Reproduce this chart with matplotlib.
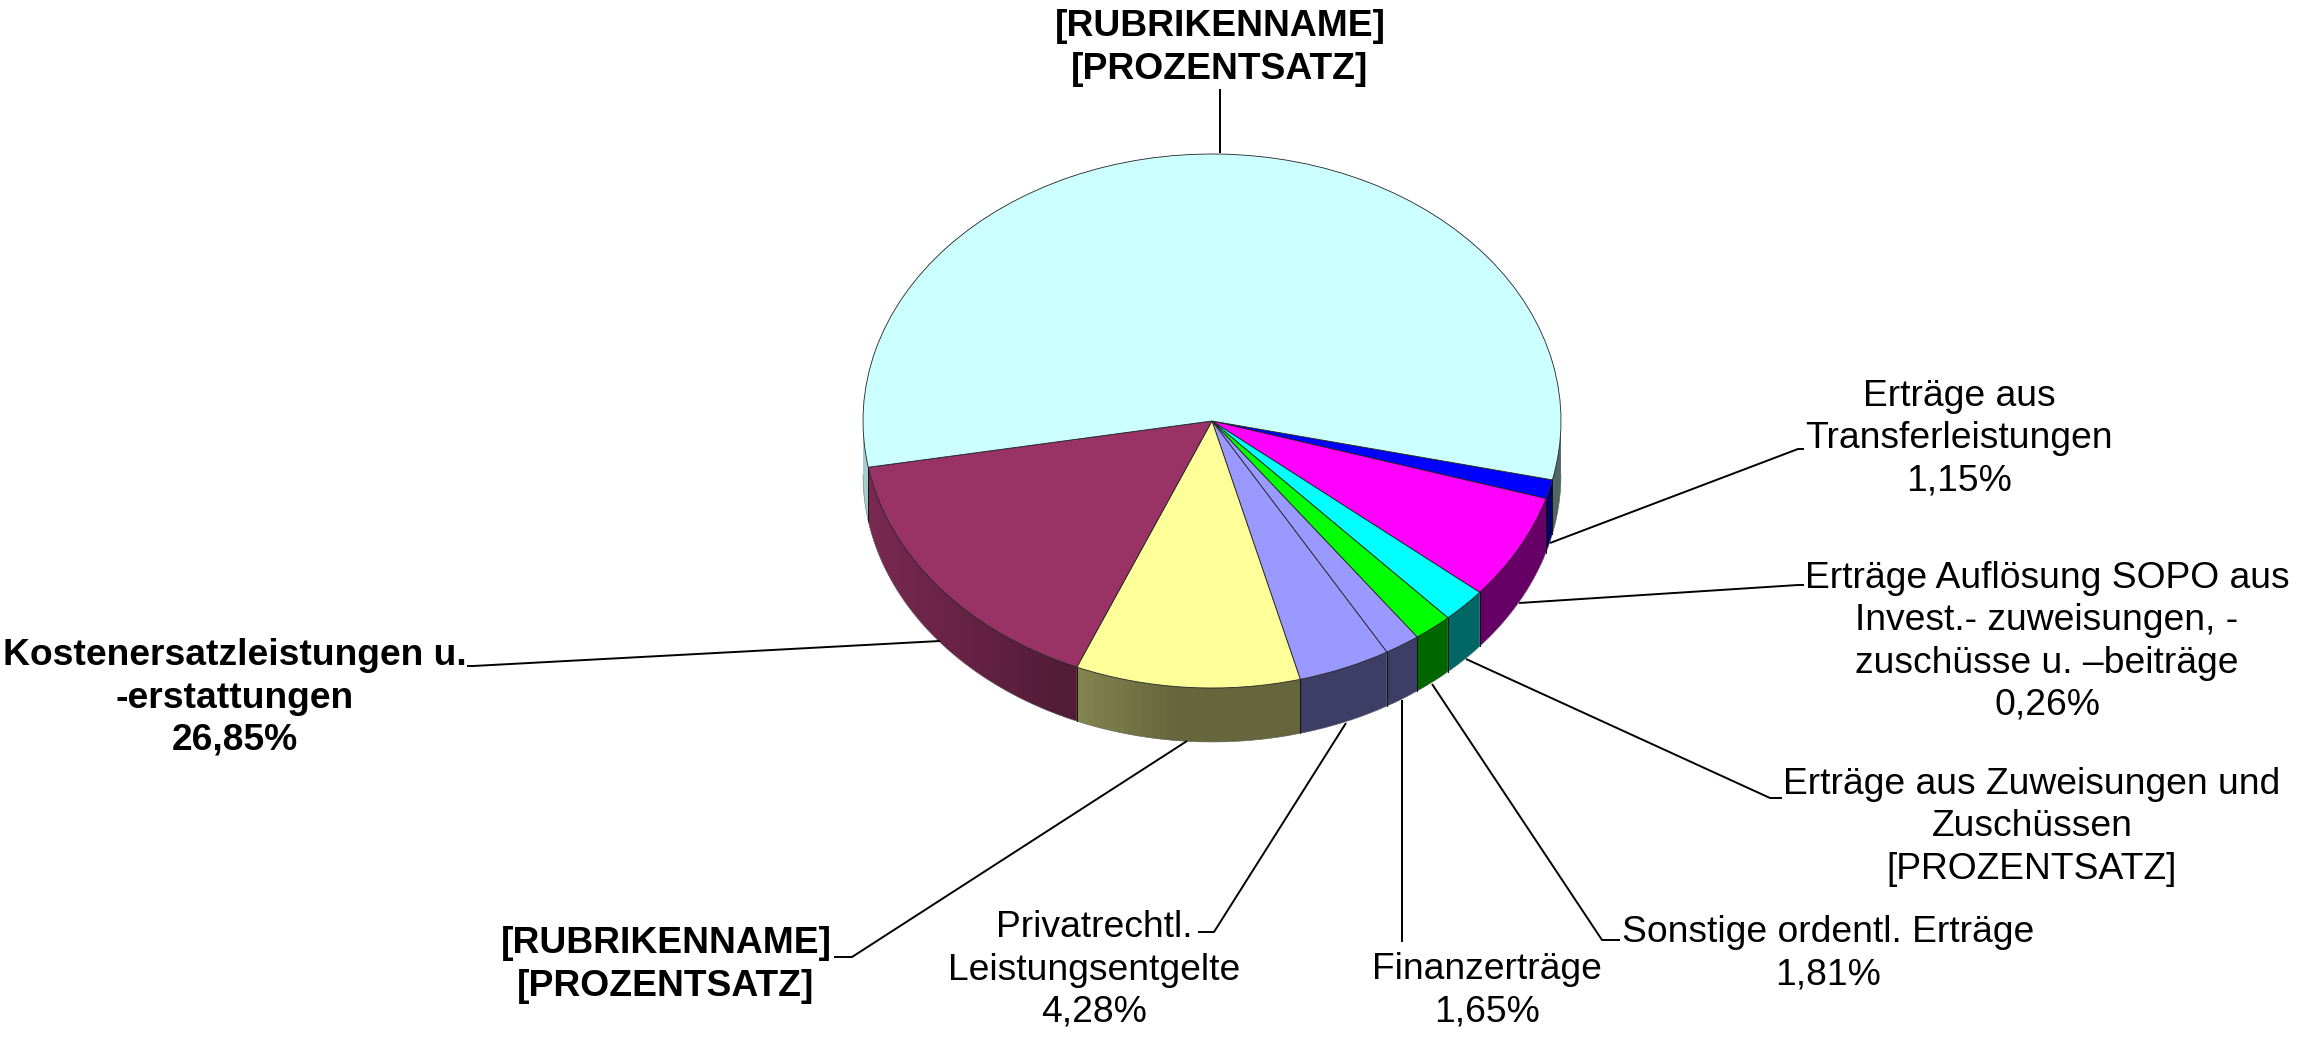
import numpy as np
import matplotlib
matplotlib.use("Agg")
import matplotlib.pyplot as plt
from matplotlib.colors import to_rgb

plt.rcParams['font.family'] = ['Liberation Sans', 'DejaVu Sans']

# share of each slice in percent, clockwise
slices = ['Transferleistungen', 'Zuweisungsanteil A', 'SOPO', 'Sonstige', 'Finanz',
          'Privatrechtl', 'Rubrik unten', 'Kostenersatz', 'Rubrik oben']
values = [1.15, 6.40, 2.10, 1.81, 1.65, 4.28, 10.40, 15.90, 56.31]
colors = ['#0000FF', '#FF00FF', '#00FFFF', '#00FF00', '#9999FF',
          '#9999FF', '#FFFF99', '#993366', '#CCFFFF']

label_texts = [
    '[RUBRIKENNAME]\n[PROZENTSATZ]',
    'Erträge aus\nTransferleistungen\n1,15%',
    'Erträge Auflösung SOPO aus\nInvest.- zuweisungen, -\nzuschüsse u. –beiträge\n0,26%',
    'Erträge aus Zuweisungen und\nZuschüssen\n[PROZENTSATZ]',
    'Sonstige ordentl. Erträge\n1,81%',
    'Finanzerträge\n1,65%',
    'Privatrechtl.\nLeistungsentgelte\n4,28%',
    '[RUBRIKENNAME]\n[PROZENTSATZ]',
    'Kostenersatzleistungen u.\n-erstattungen\n26,85%',
]
label_bold = [True, False, False, False, False, False, False, True, True]

# layout in figure pixels
W, H = 2304, 1037
CX, CY, RX, RY, DEPTH = 1212.0, 421.0, 349.0, 267.0, 54.0
START = 12.74
label_pos = [(1220, 48), (1959, 439), (2047, 642), (2032, 827), (1828, 954),
             (1487, 991), (1094, 970), (666, 965), (235, 698)]
leaders = [
    [(1220, 153), (1220, 89)],
    [(1550, 543), (1798, 449), (1804, 449)],
    [(1519, 603), (1798, 585), (1804, 585)],
    [(1466, 659), (1770, 798), (1782, 798)],
    [(1432, 684), (1602, 940), (1620, 940)],
    [(1402, 700), (1402, 942)],
    [(1346, 723), (1214, 932), (1198, 932)],
    [(1187, 741), (852, 957), (834, 957)],
    [(940, 641), (473, 666), (467, 666)],
]

fig = plt.figure(figsize=(W / 100, H / 100), dpi=100, facecolor='white')
ax = fig.add_axes([0, 0, 1, 1])


def shade(x):
    """Brightness of the side wall, lighter towards the left."""
    return 0.4 + 0.45 * np.clip(-0.1 - x, 0, None)


wedges, _ = ax.pie(values, colors=colors, startangle=-START, counterclock=False,
                   radius=1.0, wedgeprops=dict(edgecolor='#222222', linewidth=0.6,
                                               zorder=5))
ax.set_aspect('auto')
ax.set_xlim((0 - CX) / RX, (W - CX) / RX)
ax.set_ylim(-(H - CY) / RY, CY / RY)
d = DEPTH / RY

# side walls, drawn from the same angles as the slices
frac = np.array(values) / np.sum(values) * 360.0
edges = -START - np.concatenate([[0], np.cumsum(frac)])
for a0, a1, col in zip(edges[:-1], edges[1:], colors):
    rgb = np.array(to_rgb(col))
    # work in clockwise angle from east; the front half is 0..180
    t0, t1 = -a0, -a1
    for lo, hi in [(t0, t1), (t0 - 360, t1 - 360)]:
        lo2, hi2 = max(lo, 0), min(hi, 180)
        if hi2 <= lo2:
            continue
        n = max(int((hi2 - lo2) / 1.0), 1)
        deg = np.linspace(lo2, hi2, n + 1)
        # paint from the far end so each strip overlaps the next: no seams
        for i in range(n - 1, -1, -1):
            th = np.radians(np.linspace(deg[i], deg[i + 1] if i == n - 1 else deg[i + 2], 5))
            xs = np.cos(th)
            ys = -np.sin(th)
            xm = np.cos(np.radians((deg[i] + deg[i + 1]) / 2))
            c = tuple(np.clip(rgb * shade(xm), 0, 1))
            ax.fill(np.r_[xs, xs[::-1]], np.r_[ys, ys[::-1] - d],
                    facecolor=c, edgecolor='none', lw=0, zorder=2)
        # rim lines
        th = np.radians(np.linspace(lo2, hi2, 2 * n + 1))
        ax.plot(np.cos(th), -np.sin(th) - d, color='#777777', lw=0.4, zorder=3)
        for t, present in [(lo, lo >= 0), (hi, hi <= 180)]:
            if present:
                r = np.radians(t)
                ax.plot([np.cos(r)] * 2, [-np.sin(r), -np.sin(r) - d],
                        color='#111111', lw=0.6, zorder=4)

# overlay in figure pixels for leaders and labels
ov = fig.add_axes([0, 0, 1, 1], facecolor='none')
ov.set_xlim(0, W)
ov.set_ylim(H, 0)
ov.axis('off')
for pts in leaders:
    p = np.array(pts)
    ov.plot(p[:, 0], p[:, 1], color='black', lw=1.4, solid_capstyle='butt')
for txt, pos, bold in zip(label_texts, label_pos, label_bold):
    ov.text(pos[0], pos[1], txt, ha='center', va='center', fontsize=26.85,
            fontweight='bold' if bold else 'normal', linespacing=1.27, color='black')

fig.savefig('out.png', dpi=100)
